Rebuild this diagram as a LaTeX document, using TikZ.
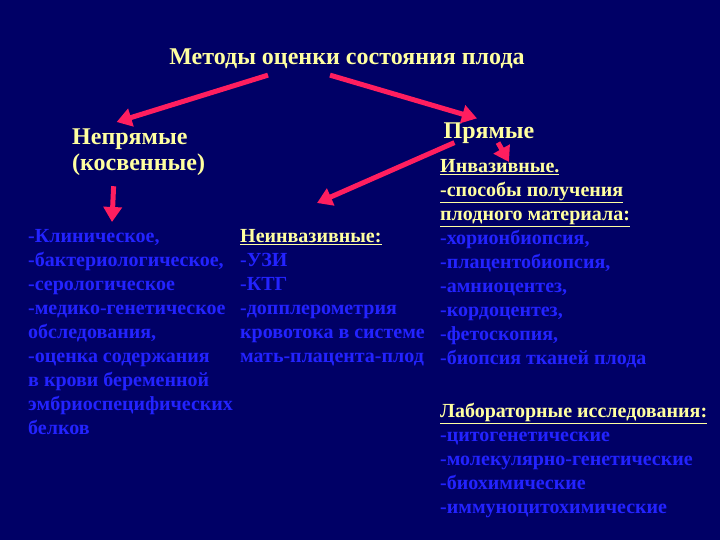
\documentclass[tikz,border=0pt]{standalone}
\usepackage{fontspec}
\setmainfont{Liberation Serif}
\usetikzlibrary{arrows.meta}
\definecolor{slidebg}{RGB}{0,0,102}
\definecolor{yellowtxt}{RGB}{255,255,160}
\definecolor{bluetxt}{RGB}{35,35,255}
\definecolor{pinkarrow}{RGB}{255,30,95}
\tikzstyle{heading} = [text=yellowtxt, font=\bfseries\fontsize{24}{26}\selectfont, inner sep=0pt]
\tikzstyle{branch} = [text=yellowtxt, font=\bfseries\fontsize{24}{26}\selectfont, inner sep=0pt, align=left]
\tikzstyle{listing} = [text=bluetxt, font=\bfseries\fontsize{20}{24}\selectfont, align=left, anchor=north west, inner sep=0pt]
\tikzstyle{arrow} = [line width=5pt, draw=pinkarrow, -{Triangle[length=15pt,width=18pt]}]
\newcommand{\yhead}[1]{\textcolor{yellowtxt}{\underline{#1}}}

\begin{document}
\begin{tikzpicture}[x=1pt,y=-1pt]
    % фон слайда
    \fill[slidebg] (0,0) rectangle (720,540);

    % заголовки
    \node (title) [heading] at (347,59) {Методы оценки состояния плода};
    \node (indirect) [branch, anchor=north west] at (72,129) {Непрямые\\(косвенные)};
    \node (direct) [branch] at (489,133) {Прямые};

    % списки методов
    \node (clinic) [listing] at (28,229) {-Клиническое,\\-бактериологическое,\\-серологическое\\-медико-генетическое\\обследования,\\-оценка содержания\\в крови беременной\\эмбриоспецифических\\белков};
    \node (noninv) [listing] at (240,229) {\yhead{Неинвазивные:}\\-УЗИ\\-КТГ\\-допплерометрия\\кровотока в системе\\мать-плацента-плод};
    \node (invasive) [listing] at (440,159) {\yhead{Инвазивные.}\\\yhead{-способы получения}\\\yhead{плодного материала:}\\-хорионбиопсия,\\-плацентобиопсия,\\-амниоцентез,\\-кордоцентез,\\-фетоскопия,\\-биопсия тканей плода};
    \node (lab) [listing] at (440,403) {\yhead{Лабораторные исследования:}\\-цитогенетические\\-молекулярно-генетические\\-биохимические\\-иммуноцитохимические};

    % стрелки
    \draw [arrow] ([xshift=-79pt,yshift=-6pt]title.south) -- ([xshift=-22pt,yshift=7pt]indirect.north);
    \draw [arrow] ([xshift=-17pt,yshift=-6pt]title.south) -- ([xshift=-12pt,yshift=4pt]direct.north);
    \draw [arrow] ([xshift=-25pt,yshift=-10pt]indirect.south) -- ([xshift=84pt,yshift=7pt]clinic.north west);
    \draw [arrow] ([xshift=11pt,yshift=1pt]direct.south west) -- ([xshift=77pt,yshift=26pt]noninv.north west);
    \draw [arrow] ([xshift=9pt,yshift=1pt]direct.south) -- ([xshift=69pt,yshift=-3pt]invasive.north west);
\end{tikzpicture}
\end{document}
